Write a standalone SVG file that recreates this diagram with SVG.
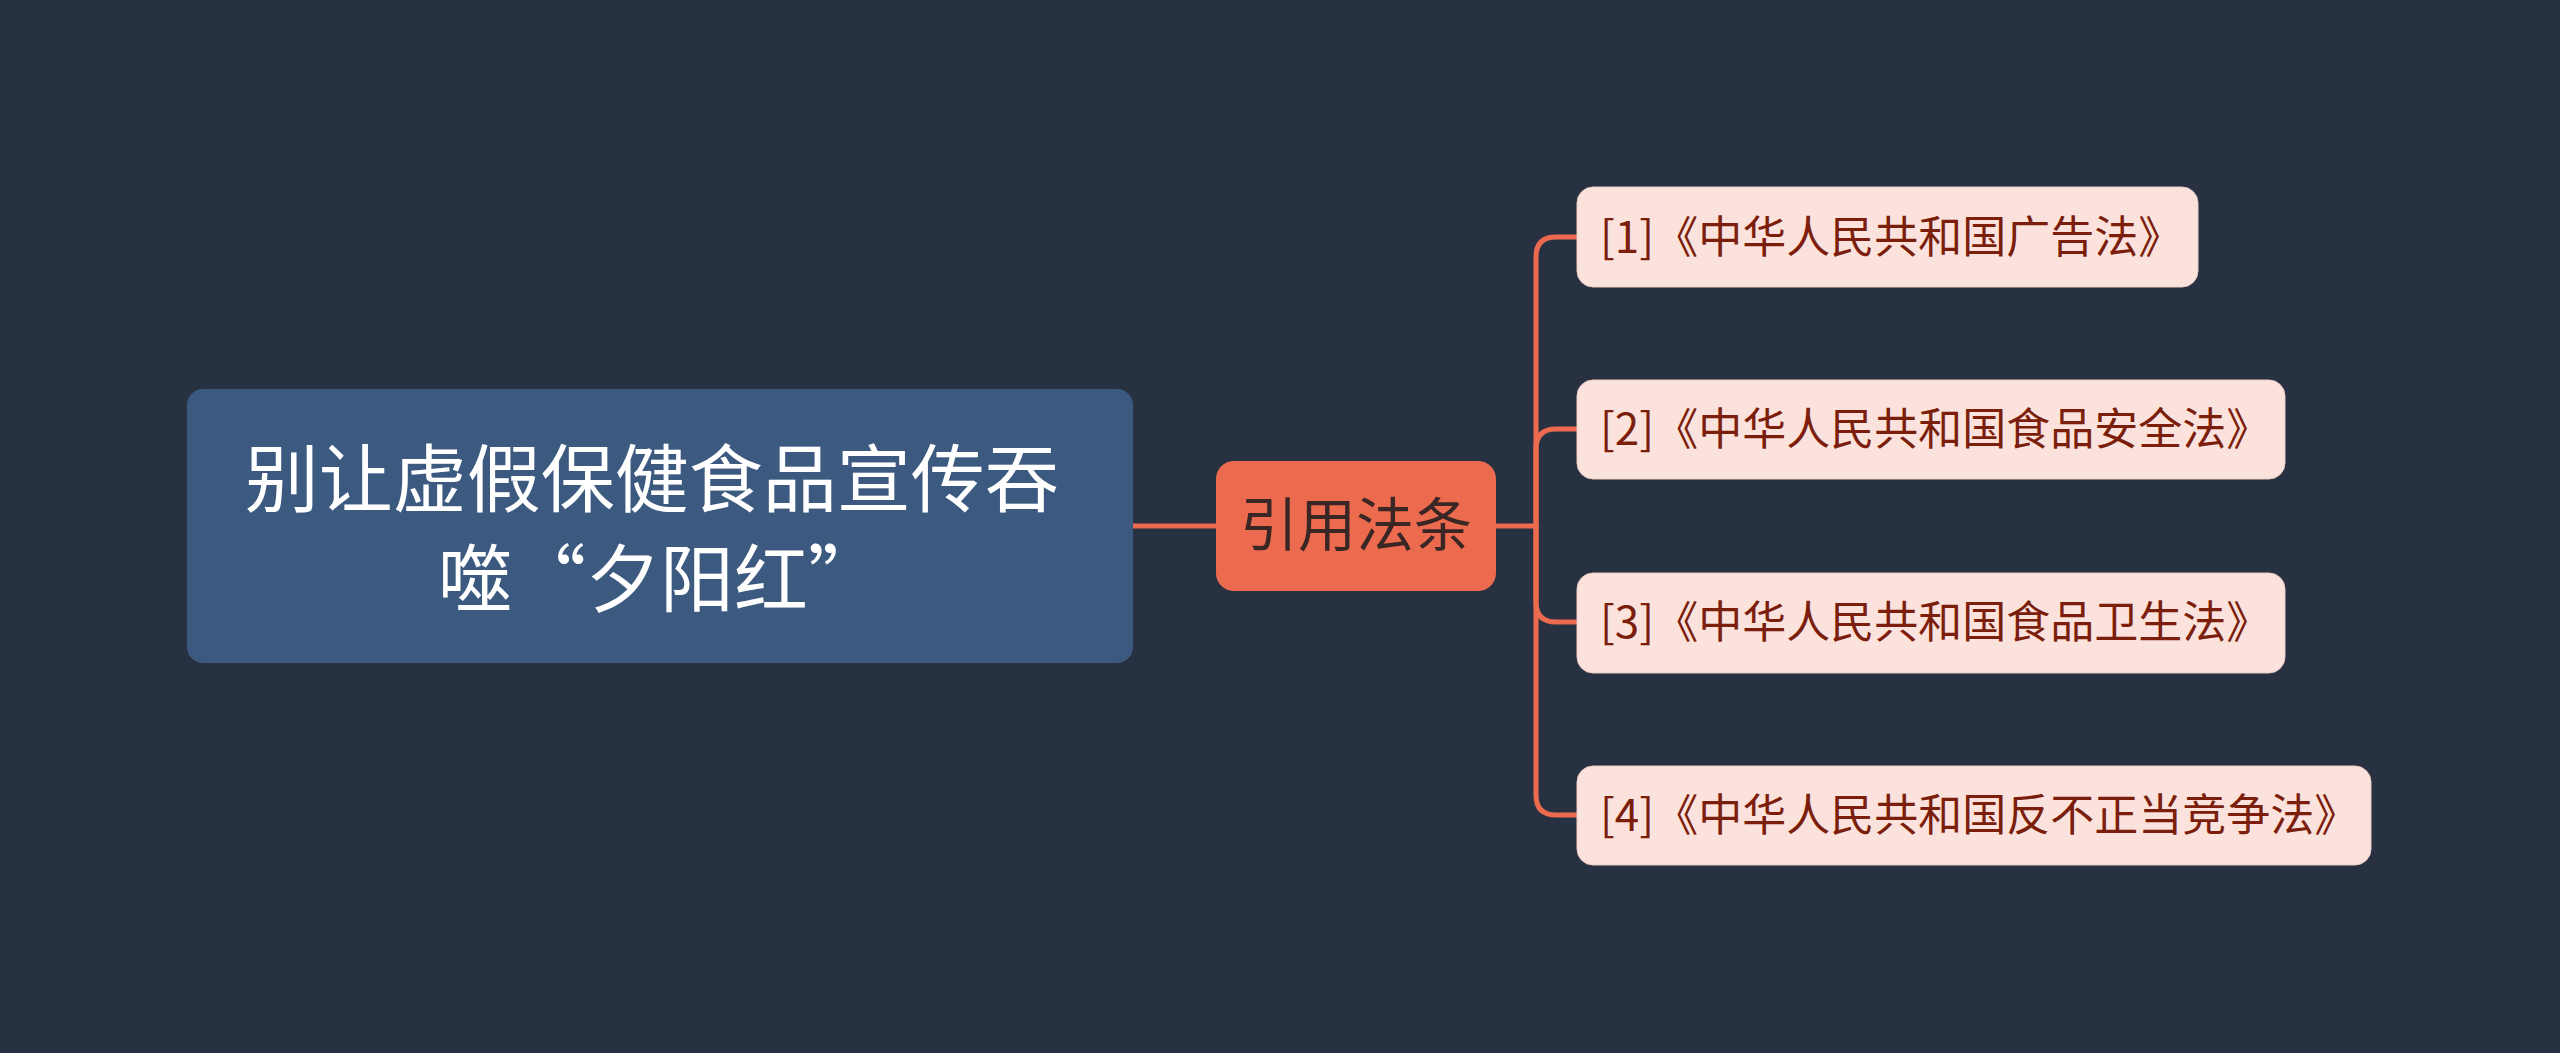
<svg xmlns="http://www.w3.org/2000/svg" width="2560" height="1053" viewBox="0 0 2560 1053">
<style>
.conn{fill:none;stroke:#EC6B4E;stroke-width:5;stroke-linecap:round;stroke-linejoin:round}
.leaf rect{fill:#FCE2DC;stroke:#E8C9C2;stroke-width:1}
.leaf text{font-family:"Noto Sans CJK SC","Noto Sans",sans-serif;font-size:44px;fill:#7B1E0C}
</style>
<rect x="0" y="0" width="2560" height="1053" fill="#283141"/>
<g id="connectors">
<path class="conn" d="M1133,526 H1216"/>
<path class="conn" d="M1496,526 H1536"/>
<path class="conn" d="M1536,526 V257 Q1536,237 1556,237 H1577"/>
<path class="conn" d="M1536,526 V449 Q1536,429 1556,429 H1577"/>
<path class="conn" d="M1536,526 V602 Q1536,622 1556,622 H1577"/>
<path class="conn" d="M1536,526 V795 Q1536,815 1556,815 H1577"/>
</g>
<g id="root">
<rect x="187" y="389" width="946" height="274" rx="16" fill="#3C5A80"/>
<text font-family="'Noto Sans CJK SC','Noto Sans',sans-serif" font-size="74" fill="#FFFFFF" text-anchor="middle">
<tspan x="660" y="506">别让虚假保健食品宣传吞</tspan>
<tspan x="660" y="606">噬“夕阳红”</tspan>
</text>
</g>
<g id="middle">
<rect x="1216" y="461" width="280" height="130" rx="18" fill="#EC6B4E"/>
<text x="1356" y="546" font-family="'Noto Sans CJK SC','Noto Sans',sans-serif" font-size="58" fill="#3A2624" text-anchor="middle">引用法条</text>
</g>
<g id="leaf1" class="leaf">
<rect x="1577" y="187" width="621" height="100" rx="16"/>
<text x="1600" y="253">[1]《中华人民共和国广告法》</text>
</g>
<g id="leaf2" class="leaf">
<rect x="1577" y="380" width="708" height="99" rx="16"/>
<text x="1600" y="445">[2]《中华人民共和国食品安全法》</text>
</g>
<g id="leaf3" class="leaf">
<rect x="1577" y="573" width="708" height="100" rx="16"/>
<text x="1600" y="638">[3]《中华人民共和国食品卫生法》</text>
</g>
<g id="leaf4" class="leaf">
<rect x="1577" y="766" width="794" height="99" rx="16"/>
<text x="1600" y="831">[4]《中华人民共和国反不正当竞争法》</text>
</g>
</svg>
